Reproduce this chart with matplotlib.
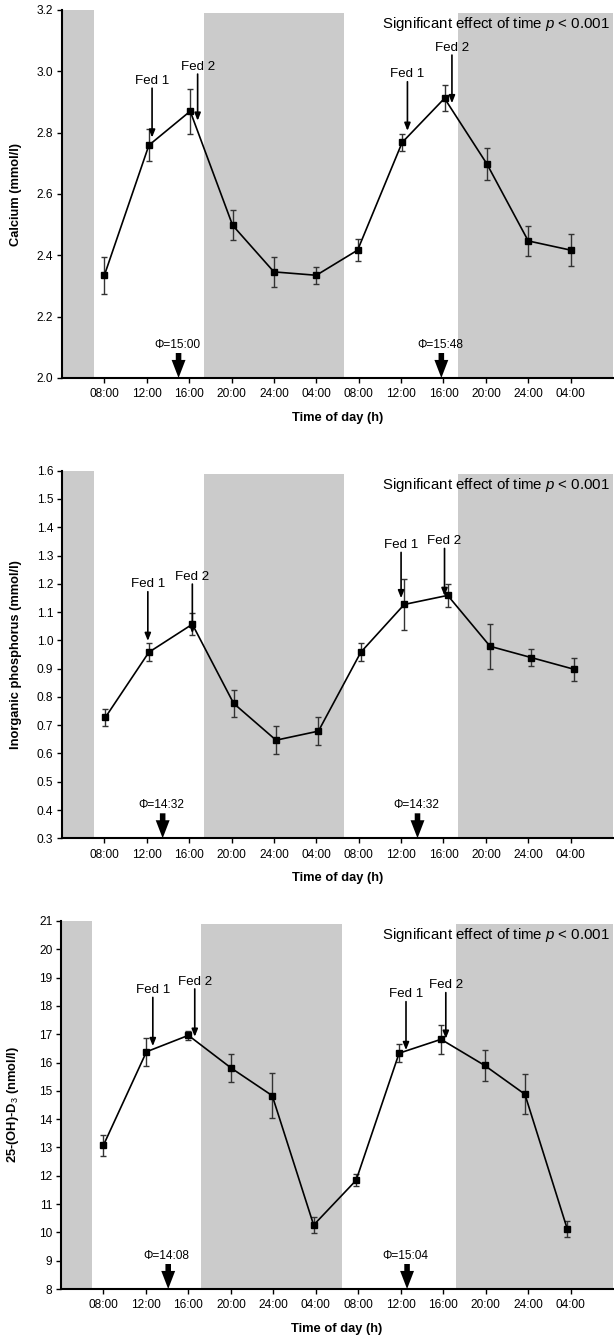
import matplotlib
matplotlib.use("Agg")
import matplotlib.pyplot as plt
from matplotlib import font_manager

plt.rcParams['font.family'] = ['Liberation Sans', 'DejaVu Sans']
plt.rcParams['mathtext.fontset'] = 'custom'
plt.rcParams['mathtext.rm'] = 'Liberation Sans'
plt.rcParams['mathtext.it'] = 'Liberation Sans:italic'
plt.rcParams['mathtext.bf'] = 'Liberation Sans:bold'

names = {f.name for f in font_manager.fontManager.ttflist}
NARROW = 'Liberation Sans Narrow' if 'Liberation Sans Narrow' in names else 'Liberation Sans'
FED_SIZE = 10.5 if NARROW == 'Liberation Sans Narrow' else 9.6

# ---------------- data ----------------
tick_hours = [8, 12, 16, 20, 24, 28, 32, 36, 40, 44, 48, 52]
tick_labels = ['08:00', '12:00', '16:00', '20:00', '24:00', '04:00',
               '08:00', '12:00', '16:00', '20:00', '24:00', '04:00']

# Calcium
ca_t = [8.0, 12.2, 16.1, 20.1, 24.0, 28.0, 31.9, 36.1, 40.1, 44.1, 48.0, 52.0]
ca_v = [2.335, 2.759, 2.870, 2.498, 2.346, 2.335, 2.417, 2.768, 2.912, 2.698, 2.447, 2.417]
ca_e = [0.060, 0.053, 0.073, 0.049, 0.050, 0.027, 0.035, 0.029, 0.042, 0.052, 0.048, 0.053]
ca_fed_x = [12.5, 16.8, 36.6, 40.8]
ca_fed_top = [2.945, 2.991, 2.966, 3.053]
ca_fed_tip = [2.784, 2.839, 2.806, 2.896]
ca_phi_x = [15.0, 39.8]
ca_phi_lab = ['\u03a6=15:00', '\u03a6=15:48']
ca_dark = [(4.0, 7.0), (17.4, 30.66), (41.4, 56.0)]
ca_yticks = [2.0, 2.2, 2.4, 2.6, 2.8, 3.0, 3.2]

# Inorganic phosphorus
p_t = [8.1, 12.2, 16.3, 20.2, 24.2, 28.2, 32.2, 36.3, 40.4, 44.4, 48.3, 52.3]
p_v = [0.728, 0.958, 1.057, 0.777, 0.647, 0.679, 0.958, 1.127, 1.159, 0.979, 0.939, 0.898]
p_e = [0.031, 0.031, 0.039, 0.048, 0.049, 0.050, 0.031, 0.090, 0.040, 0.080, 0.031, 0.041]
p_fed_x = [12.1, 16.3, 36.0, 40.1]
p_fed_top = [1.172, 1.199, 1.311, 1.325]
p_fed_tip = [0.998, 1.025, 1.149, 1.157]
p_phi_x = [13.5, 37.55]
p_phi_lab = ['\u03a6=14:32', '\u03a6=14:32']
p_dark = [(4.0, 7.0), (17.4, 30.66), (41.4, 56.0)]
p_yticks = [0.3, 0.4, 0.5, 0.6, 0.7, 0.8, 0.9, 1.0, 1.1, 1.2, 1.3, 1.4, 1.5, 1.6]

# 25-(OH)-D3
d_t = [8.0, 12.05, 16.0, 20.05, 23.9, 27.8, 31.8, 35.85, 39.8, 43.9, 47.7, 51.7]
d_v = [13.08, 16.38, 16.96, 15.80, 14.83, 10.26, 11.84, 16.33, 16.82, 15.90, 14.88, 10.11]
d_e = [0.37, 0.50, 0.16, 0.50, 0.80, 0.29, 0.21, 0.31, 0.51, 0.55, 0.70, 0.28]
d_fed_x = [12.65, 16.6, 36.5, 40.25]
d_fed_top = [18.3, 18.6, 18.15, 18.47]
d_fed_tip = [16.58, 16.91, 16.44, 16.84]
d_phi_x = [14.1, 36.6]
d_phi_lab = ['\u03a6=14:08', '\u03a6=15:04']
d_dark = [(4.0, 6.9), (17.2, 30.45), (41.2, 56.0)]
d_yticks = list(range(8, 22))

fed_labels = ['Fed 1', 'Fed 2', 'Fed 1', 'Fed 2']

panels = [
    dict(t=ca_t, v=ca_v, e=ca_e, fx=ca_fed_x, ft=ca_fed_top, fp=ca_fed_tip,
         px=ca_phi_x, pl=ca_phi_lab, dark=ca_dark, yt=ca_yticks, fmt='{:.1f}',
         ylabel='Calcium (mmol/l)', rect=[62/614, 1-378/1335, 551/614, 368/1335]),
    dict(t=p_t, v=p_v, e=p_e, fx=p_fed_x, ft=p_fed_top, fp=p_fed_tip,
         px=p_phi_x, pl=p_phi_lab, dark=p_dark, yt=p_yticks, fmt='{:.1f}',
         ylabel='Inorganic phosphorus (mmol/l)', rect=[62/614, 1-838.3/1335, 551/614, 367.6/1335]),
    dict(t=d_t, v=d_v, e=d_e, fx=d_fed_x, ft=d_fed_top, fp=d_fed_tip,
         px=d_phi_x, pl=d_phi_lab, dark=d_dark, yt=d_yticks, fmt='{:d}',
         ylabel=r'25-(OH)-D$_3$ (nmol/l)', rect=[61/614, 1-1289/1335, 552/614, 368/1335]),
]

GREY = '#cbcbcb'

fig = plt.figure(figsize=(6.14, 13.35), dpi=100)

for P in panels:
    ax = fig.add_axes(P['rect'])
    ymin, ymax = P['yt'][0], P['yt'][-1]
    ax.set_xlim(4, 56)
    ax.set_ylim(ymin, ymax)
    for i, (a, b) in enumerate(P['dark']):
        top = 1.0 if i == 0 else 1 - 3/368
        ax.axvspan(a, b, ymin=0, ymax=top, color=GREY, lw=0, zorder=0)

    ax.errorbar(P['t'], P['v'], yerr=P['e'], fmt='none', ecolor='#333333',
                elinewidth=1.0, capsize=2.4, capthick=1.0, zorder=3)
    ax.plot(P['t'], P['v'], '-', color='black', lw=1.2, marker='s',
            markersize=3.8, markerfacecolor='black', markeredgecolor='black', zorder=4)

    for x, y0, y1, lab in zip(P['fx'], P['ft'], P['fp'], fed_labels):
        ax.annotate('', xy=(x, y1), xytext=(x, y0),
                    arrowprops=dict(arrowstyle='-|>,head_length=0.45,head_width=0.18',
                                    lw=1.2, color='black', shrinkA=0, shrinkB=0), zorder=5)
        ax.annotate(lab, xy=(x, y0), xytext=(0, 1.0), textcoords='offset points',
                    ha='center', va='bottom', fontsize=FED_SIZE, family=NARROW, zorder=5)

    for x, lab in zip(P['px'], P['pl']):
        ax.annotate('', xy=(x, ymin), xycoords='data', xytext=(0, 18),
                    textcoords='offset points',
                    arrowprops=dict(arrowstyle='simple,head_length=1.3,head_width=1.0,tail_width=0.4',
                                    mutation_scale=10, color='black', lw=0,
                                    shrinkA=0, shrinkB=0), zorder=5)
        ax.annotate(lab, xy=(x, ymin), xytext=(-1, 24), textcoords='offset points',
                    ha='center', va='center', fontsize=8.6, zorder=5)

    ax.text(0.9946, 0.962, r'Significant effect of time $p$ < 0.001',
            transform=ax.transAxes, ha='right', va='center', fontsize=10.8, zorder=6)

    ax.set_xticks(tick_hours)
    ax.set_xticklabels(tick_labels)
    ax.set_yticks(P['yt'])
    ax.set_yticklabels([P['fmt'].format(y) for y in P['yt']])
    ax.tick_params(axis='both', direction='out', length=3.5, width=1.0,
                   labelsize=8.6, pad=2.8, color='black')
    ax.tick_params(axis='x', pad=4.0)
    for s in ['top', 'right']:
        ax.spines[s].set_visible(False)
    for s in ['left', 'bottom']:
        ax.spines[s].set_linewidth(1.5)

    ax.set_xlabel('Time of day (h)', fontsize=9.3, fontweight='bold')
    ax.xaxis.set_label_coords(0.5, -0.092)
    ax.set_ylabel(P['ylabel'], fontsize=9.3, fontweight='bold')
    ax.yaxis.set_label_coords(-0.072, 0.5)

fig.savefig('out.png', dpi=100)
